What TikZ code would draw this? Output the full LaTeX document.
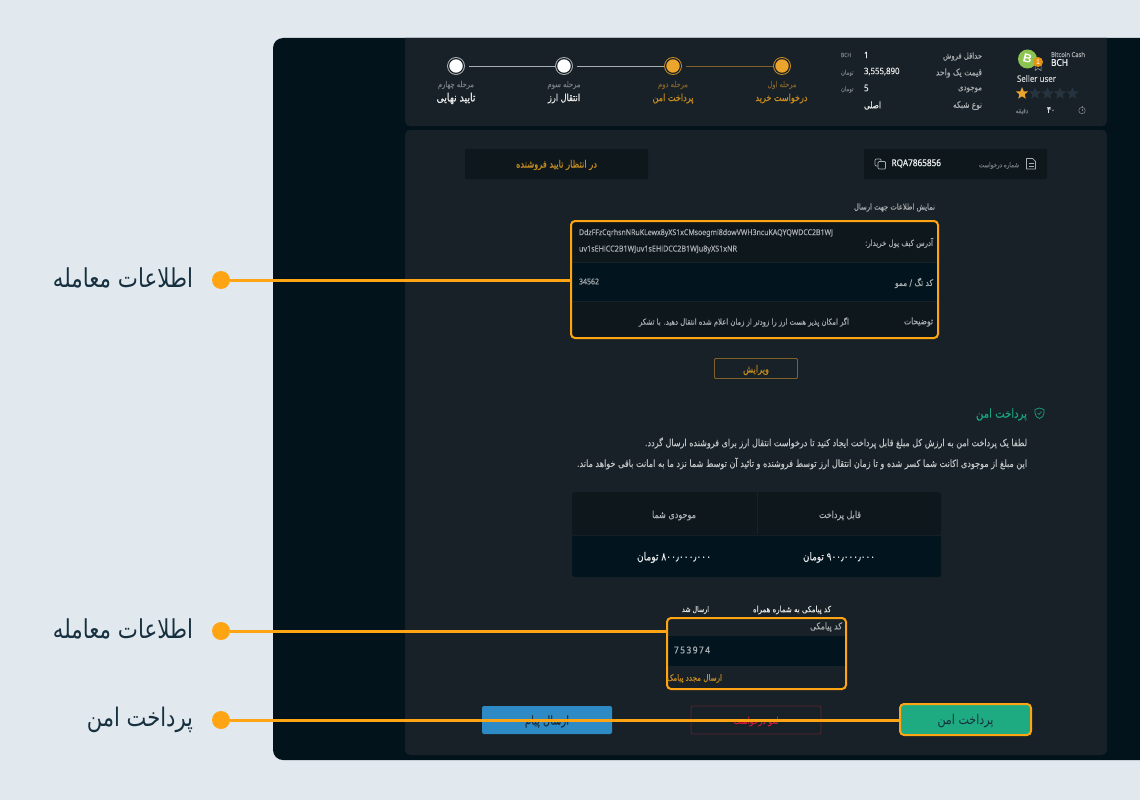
\documentclass[tikz,border=0pt]{standalone}
\usepackage{fontspec}
\usepackage{graphicx}
\usetikzlibrary{shapes.geometric}
\setmainfont{Liberation Sans}
\TeXXeTstate=1
\newfontfamily\arabicplain[Script=Arabic,FakeStretch=0.82]{DejaVu Sans}
\newfontfamily\arabicfont[Script=Arabic,FakeStretch=0.82,FakeBold=0.2]{DejaVu Sans}
\newfontfamily\arabicbold[Script=Arabic,FakeStretch=0.82,FakeBold=0.8]{DejaVu Sans}
\newfontfamily\latinfont[FakeStretch=0.88,FakeBold=0.15]{Noto Sans}
\newfontfamily\latinbold[FakeStretch=0.88,FakeBold=1.2]{Noto Sans}
\newcommand\fp[2]{\resizebox{#1pt}{!}{\arabicplain #2}}
\newcommand\fa[2]{\resizebox{#1pt}{!}{\arabicfont #2}}
\newcommand\fb[2]{\resizebox{#1pt}{!}{\arabicbold #2}}
\newcommand\la[2]{\resizebox{#1pt}{!}{\latinfont #2}}
\newcommand\lb[2]{\resizebox{#1pt}{!}{\latinbold #2}}
\definecolor{pagebg}{HTML}{E1E9EF}
\definecolor{panel}{HTML}{03131B}
\definecolor{card}{HTML}{182127}
\definecolor{inner}{HTML}{0E171C}
\definecolor{deep}{HTML}{02141E}
\definecolor{hl}{HTML}{FFA514}
\definecolor{amber}{HTML}{C78D1F}
\definecolor{amberdim}{HTML}{7F6128}
\definecolor{stepfill}{HTML}{EBA42C}
\definecolor{labl}{HTML}{A9AEB1}
\definecolor{dimg}{HTML}{777D81}
\definecolor{whitish}{HTML}{E8E9EA}
\definecolor{greeny}{HTML}{1AA57E}
\definecolor{navy}{HTML}{16303F}
\tikzset{
  txt/.style={inner sep=0pt,outer sep=0pt,text=labl},
  ftxt/.style={txt,yshift=-1.5pt},
  stepdone/.style={circle,draw=amber,line width=.8pt,fill=stepfill,minimum size=17pt,inner sep=0pt},
  steptodo/.style={circle,draw=labl,line width=.8pt,fill=white,minimum size=17pt,inner sep=0pt},
  hlbox/.style={draw=hl,line width=2pt,rounded corners=4pt,inner sep=0pt},
  hlline/.style={draw=hl,line width=3pt},
  hldot/.style={circle,fill=hl,minimum size=18pt,inner sep=0pt},
  starshape/.style={star,star points=5,star point ratio=2.3,minimum size=12.8pt,inner sep=0pt},
  icon/.style={draw=labl,line width=.7pt,line join=round}
}
\begin{document}
\begin{tikzpicture}[x=1pt,y=-1pt]
\useasboundingbox (0,0) rectangle (1140,800);
\fill[pagebg] (0,0) rectangle (1140,800);
\fill[panel] (1140,38) -- (283,38) arc (90:180:10pt) -- (273,750) arc (180:270:10pt) -- (1140,760) -- cycle;
\fill[card] (405,38) -- (405,121) arc (180:270:5pt) -- (1102,126) arc (270:360:5pt) -- (1107,38) -- cycle;
\fill[card,rounded corners=5pt] (405,130) rectangle (1107,755);

% stepper
\node[steptodo] (s4) at (456,66) {};
\node[steptodo] (s3) at (564,66) {};
\node[stepdone] (s2) at (673,66) {};
\node[stepdone] (s1) at (782,66) {};
\foreach \n in {s4,s3,s2,s1}{\draw[card,line width=1.2pt] (\n) circle (7.4pt);}
\draw[labl,line width=.8pt,shorten <=4pt] (s4) -- (s3);
\draw[labl,line width=.8pt,shorten <=4pt] (s3) -- (s2);
\draw[amberdim,line width=.9pt,shorten <=4pt] (s2) -- (s1);
\node[ftxt,text=dimg] (s4a) at (456,83.5) {\fa{36}{\beginR مرحله چهارم\endR}};
\node[ftxt,text=dimg] (s3a) at (564,83.5) {\fa{33}{\beginR مرحله سوم\endR}};
\node[ftxt,text=amberdim] (s2a) at (673,83.5) {\fa{30}{\beginR مرحله دوم\endR}};
\node[ftxt,text=amberdim] (s1a) at (782,83.5) {\fa{29}{\beginR مرحله اول\endR}};
\node[ftxt,text=whitish] (s4b) at (456,97) {\fb{39}{\beginR تایید نهایی\endR}};
\node[ftxt,text=whitish] (s3b) at (564,97) {\fb{32}{\beginR انتقال ارز\endR}};
\node[ftxt,text=amber] (s2b) at (673,97) {\fb{41}{\beginR پرداخت امن\endR}};
\node[ftxt,text=amber] (s1b) at (781.5,97) {\fb{52}{\beginR درخواست خرید\endR}};

% info table
\node[ftxt,anchor=east] (r1) at (982,55) {\fa{39}{\beginR حداقل فروش\endR}};
\node[ftxt,anchor=east] (r2) at (982,71.5) {\fa{46}{\beginR قیمت یک واحد\endR}};
\node[ftxt,anchor=east] (r3) at (982,88) {\fa{24}{\beginR موجودی\endR}};
\node[ftxt,anchor=east] (r4) at (982,104) {\fa{29}{\beginR نوع شبکه\endR}};
\node[txt,anchor=west,text=whitish] (v1) at (864,55) {\latinfont\fontsize{9}{9}\selectfont 1};
\node[txt,anchor=west,text=whitish] (v2) at (864,71.5) {\la{35.5}{3,555,890}};
\node[txt,anchor=west,text=whitish] (v3) at (864,88) {\latinfont\fontsize{9}{9}\selectfont 5};
\node[ftxt,anchor=west,text=whitish] (v4) at (864,104) {\fb{17}{\beginR اصلی\endR}};
\node[txt,anchor=west,text=dimg] (u1) at (841,55) {\la{10}{BCH}};
\node[ftxt,anchor=west,text=dimg] (u2) at (841,71.5) {\fa{12.5}{\beginR تومان\endR}};
\node[ftxt,anchor=west,text=dimg] (u3) at (841,88) {\fa{12.5}{\beginR تومان\endR}};

% seller
\node[circle,fill={rgb,255:red,141;green,195;blue,81},minimum size=19pt,inner sep=0pt] (coin) at (1027.5,59) {\rotatebox{-14}{\textcolor{white}{\fontsize{12}{12}\selectfont\bfseries B}}};
\draw[labl,line width=.5pt] (1035,64) -- (1035,70.5) -- (1038,68.5) -- (1041,70.5) -- (1041,64);
\node[circle,fill=hl!90!black,minimum size=10pt,inner sep=0pt,text=white] (badge) at (1038,62) {\fontsize{7}{7}\selectfont 1};
\node[txt,anchor=west] (bcn) at (1051,54.5) {\la{34}{Bitcoin Cash}};
\node[txt,anchor=west,text=whitish] (bch) at (1051,62.5) {\lb{17}{BCH}};
\node[txt,anchor=west,text=labl!60!white] (sell) at (1017,78.5) {\la{39}{Seller user}};
\node[starshape,fill=stepfill] (st1) at (1022,93.5) {};
\foreach \x/\n in {1035/st2,1047.5/st3,1060/st4,1072.5/st5}{\node[starshape,fill={rgb,255:red,38;green,52;blue,64}] (\n) at (\x,93.5) {};}
\node[ftxt,text=dimg] (mins) at (1022,110) {\fa{12.5}{\beginR دقیقه\endR}};
\node[txt,text=whitish] (forty) at (1051,110) {\fb{8}{\beginR\beginL ۴۰\endL\endR}};
\node[circle,draw=dimg,line width=.6pt,minimum size=6.5pt,inner sep=0pt] (clock) at (1082,110.5) {};
\draw[dimg,line width=.5pt] (1082,107) -- (1082,105.8);
\draw[dimg,line width=.5pt] (1082,108.5) -- (1082,110.5);

% status boxes
\fill[inner,rounded corners=2pt] (465,149) rectangle (648,179);
\fill[inner,rounded corners=2pt] (864,149) rectangle (1047,179);
\node[ftxt,text=amber] (wait) at (556.5,163.5) {\fb{81}{\beginR در انتظار تایید فروشنده\endR}};
\node[ftxt,anchor=east,text=dimg] (rqn) at (1019,164) {\fa{40}{\beginR شماره درخواست\endR}};
\node[txt,anchor=west,text=whitish] (rqa) at (891.5,163.5) {\lb{49.5}{RQA7865856}};
\draw[icon] (1026.5,158.5) -- (1032.5,158.5) -- (1035.5,161.5) -- (1035.5,169) -- (1026.5,169) -- cycle;
\draw[icon,line width=.5pt] (1028.5,163.5) -- (1033.5,163.5) (1028.5,166) -- (1033.5,166);
\draw[icon,rounded corners=1pt] (878,166) -- (875,166) -- (875,159) -- (881,159) -- (881,161);
\draw[icon,rounded corners=1pt] (878,161.5) rectangle (885.5,169);

\node[ftxt,anchor=east] (ttl) at (935,206) {\fa{81}{\beginR نمایش اطلاعات جهت ارسال\endR}};

% send info
\fill[inner] (572,222) rectangle (937,262);
\fill[deep] (572,263) rectangle (937,301);
\fill[inner] (572,302) rectangle (937,337);
\node[hlbox,minimum width=367pt,minimum height=117pt] (infobox) at (754.5,279.5) {};
\node[txt,anchor=west] (ad1) at (579,233) {\la{254}{DdzFFzCqrhsnNRuKLewx8yXS1xCMsoegmi8dowVWH3ncuKAQYQWDCC2B1WJ}};
\node[txt,anchor=west] (ad2) at (579,249.5) {\la{158}{uv1sEHiCC2B1WJuv1sEHiDCC2B1WJu8yXS1xNR}};
\node[txt,anchor=west] (memo) at (579,281.5) {\la{20}{34562}};
\node[ftxt,anchor=east] (l1) at (933,241.5) {\fa{68}{\beginR آدرس کیف پول خریدار:\endR}};
\node[ftxt,anchor=east] (l2) at (933,281.5) {\fa{38}{\beginR کد تگ / ممو\endR}};
\node[ftxt,anchor=east] (l3) at (933,320.5) {\fa{29}{\beginR توضیحات\endR}};
\node[ftxt,anchor=east] (desc) at (849,320.5) {\fa{210}{\beginR اگر امکان پذیر هست ارز را زودتر از زمان اعلام شده انتقال دهید. با تشکر\endR}};
\node[draw=amberdim,line width=.8pt,rounded corners=1pt,minimum width=83pt,minimum height=20pt,inner sep=0pt] (edit) at (756,368.5) {};
\node[ftxt,text=amber] (editl) at (edit.center) {\fb{26}{\beginR ویرایش\endR}};

% secure payment
\node[ftxt,anchor=east,text=greeny] (sp) at (1027,413) {\fa{51}{\beginR پرداخت امن\endR}};
\draw[greeny,line width=.7pt,line join=round] (1039.5,408) -- (1044,409.5) -- (1044,413) .. controls (1044,416) and (1042,417.5) .. (1039.5,418.5) .. controls (1037,417.5) and (1035,416) .. (1035,413) -- (1035,409.5) -- cycle;
\draw[greeny,line width=.6pt] (1037.5,413) -- (1039,414.5) -- (1041.5,411.5);
\node[ftxt,anchor=east,text=labl!70!white] (p1) at (1027,441.5) {\fa{382}{\beginR لطفا یک پرداخت امن به ارزش کل مبلغ قابل پرداخت ایجاد کنید تا درخواست انتقال ارز برای فروشنده ارسال گردد.\endR}};
\node[ftxt,anchor=east,text=labl!70!white] (p2) at (1027,462) {\fa{450}{\beginR این مبلغ از موجودی اکانت شما کسر شده و تا زمان انتقال ارز توسط فروشنده و تائید آن توسط شما نزد ما به امانت باقی خواهد ماند.\endR}};

% amounts
\fill[inner,rounded corners=3pt] (572,492) rectangle (941,536);
\fill[deep,rounded corners=3pt] (572,536) rectangle (941,577);
\fill[deep] (572,536) rectangle (941,545);
\fill[card!70!inner] (572,534.5) rectangle (941,536);
\draw[card,line width=.5pt] (757,492) -- (757,534);
\node[ftxt] (h1) at (674,514) {\fa{44}{\beginR موجودی شما\endR}};
\node[ftxt] (h2) at (840,514) {\fa{42}{\beginR قابل پرداخت\endR}};
\node[ftxt,text=whitish] (a1) at (674,556) {\fa{74}{\beginR\beginL ۸۰۰٫۰۰۰٫۰۰۰\endL{} تومان\endR}};
\node[ftxt,text=whitish] (a2) at (839,556) {\fa{72}{\beginR\beginL ۹۰۰٫۰۰۰٫۰۰۰\endL{} تومان\endR}};

% sms
\node[ftxt,text=whitish!90!labl] (sm1) at (792,608.5) {\fa{78}{\beginR کد پیامکی به شماره همراه\endR}};
\node[ftxt,text=whitish!90!labl] (sm2) at (695.5,608.5) {\fa{27}{\beginR ارسال شد\endR}};
\fill[deep] (668,636) rectangle (845,666);
\node[hlbox,minimum width=179pt,minimum height=71pt] (smsbox) at (756.5,653.5) {};
\node[ftxt,anchor=east] (sm3) at (842,625.5) {\fa{32}{\beginR کد پیامکی\endR}};
\node[txt,anchor=west] (code) at (674,650) {\lb{36}{7\,5\,3\,9\,7\,4}};
\node[ftxt,anchor=east,text=amber] (sm4) at (722,677) {\fa{55}{\beginR ارسال مجدد پیامک\endR}};

% buttons
\node[fill={rgb,255:red,45;green,138;blue,197},rounded corners=2pt,minimum width=130pt,minimum height=28pt,inner sep=0pt] (b1) at (547,720) {};
\node[ftxt,text=navy] (b1l) at (b1.center) {\fa{44}{\beginR ارسال پیام\endR}};
\node[draw={rgb,255:red,90;green,36;blue,48},line width=.8pt,rounded corners=2pt,minimum width=130pt,minimum height=28pt,inner sep=0pt] (b2) at (756,720) {};
\node[ftxt,text={rgb,255:red,200;green,30;blue,58}] (b2l) at (b2.center) {\fb{45}{\beginR لغو درخواست\endR}};
\node[hlbox,fill={rgb,255:red,31;green,171;blue,130},minimum width=131pt,minimum height=31pt] (paybtn) at (965.5,719.5) {};
\node[ftxt,text=navy] (paybtnl) at (paybtn.center) {\fp{56}{\beginR پرداخت امن\endR}};

% callouts
\node[hldot] (d1) at (221,280) {};
\node[hldot] (d2) at (221,631) {};
\node[hldot] (d3) at (221,720) {};
\node[txt,anchor=east,text=navy] (c1) at (193,278) {\fp{140}{\beginR اطلاعات معامله\endR}};
\node[txt,anchor=east,text=navy] (c2) at (193,629) {\fp{140}{\beginR اطلاعات معامله\endR}};
\node[txt,anchor=east,text=navy] (c3) at (193,720) {\fp{106}{\beginR پرداخت امن\endR}};
\draw[hlline] (d1) -- (d1 -| infobox.west);
\draw[hlline] (d2) -- (d2 -| smsbox.west);
\draw[hlline] (d3) -- (d3 -| paybtn.west);
\end{tikzpicture}
\end{document}
